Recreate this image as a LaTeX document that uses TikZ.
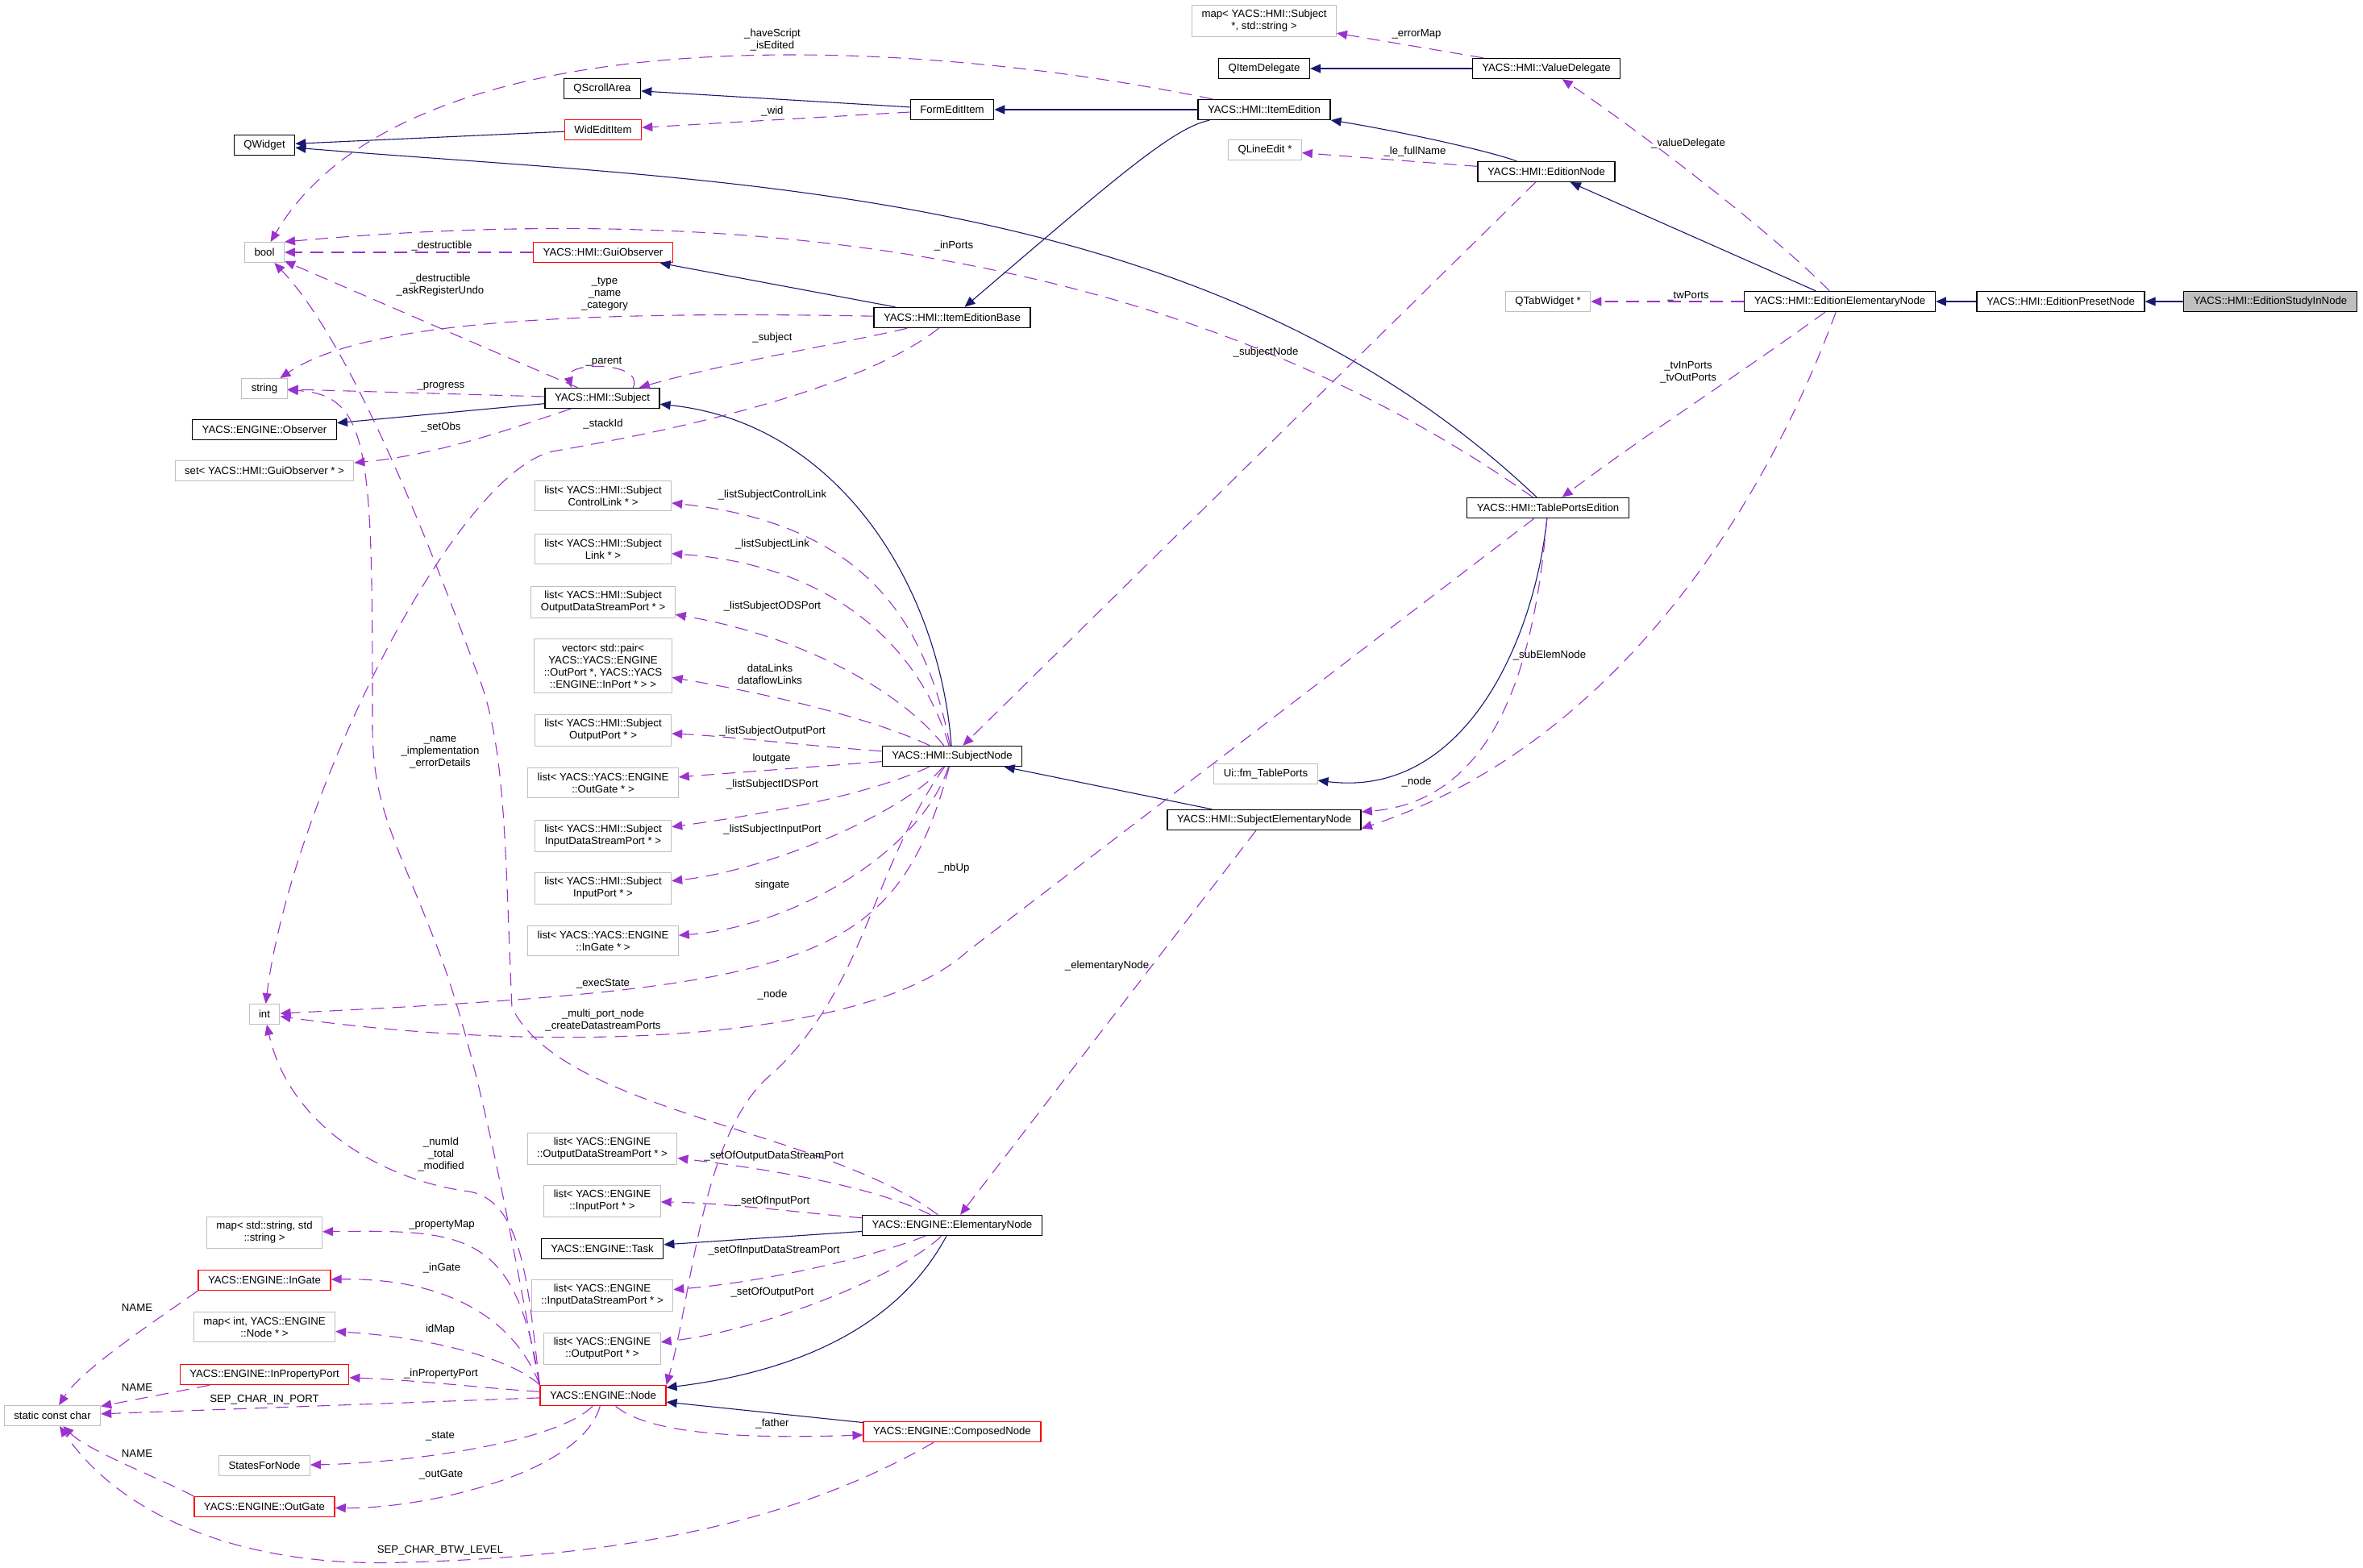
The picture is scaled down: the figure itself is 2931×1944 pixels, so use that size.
\documentclass[tikz,border=0pt]{standalone}
\usepackage{fontspec}
\setmainfont{Liberation Sans}
\usetikzlibrary{arrows.meta}
\definecolor{edgeNavy}{RGB}{25,25,112}
\definecolor{edgeOrchid}{RGB}{154,50,205}
\definecolor{boxGray}{RGB}{191,191,191}
\newcommand{\doxfont}{\fontsize{6.6}{7.5}\selectfont}

\begin{document}
\begin{tikzpicture}[x=0.5pt, y=-0.5pt,
  font=\doxfont,
  cls/.style={draw=black, line width=0.7pt, fill=white, align=center,
              inner xsep=6pt, inner ysep=3pt, minimum height=12.5pt},
  ext/.style={cls, draw=boxGray, line width=0.5pt},
  trunc/.style={cls, draw=red},
  focus/.style={cls, fill=boxGray},
  lbl/.style={align=center, inner sep=0pt},
  inherit/.style={-{Triangle[length=6.5pt,width=5.5pt]}, edgeNavy, line width=0.55pt},
  member/.style={-{Triangle[length=6.5pt,width=5.5pt]}, edgeOrchid, line width=0.55pt,
                 dash pattern=on 8pt off 5pt}
]

\useasboundingbox (0,0) rectangle (2931,1944);

% classes of the HMI side
\node[ext] (mapErr) at (1568,26) {map< YACS::HMI::Subject\\*, std::string >};
\node[cls] (qDelegate) at (1568,85) {QItemDelegate};
\node[cls] (valueDelegate) at (1918,85) {YACS::HMI::ValueDelegate};
\node[cls] (qScroll) at (747,110) {QScrollArea};
\node[cls] (formItem) at (1181,136) {FormEditItem};
\node[cls] (itemEdition) at (1568,136) {YACS::HMI::ItemEdition};
\node[trunc] (widItem) at (748,161) {WidEditItem};
\node[cls] (qWidget) at (328,180) {QWidget};
\node[ext] (qLineEdit) at (1569,186) {QLineEdit *};
\node[cls] (editionNode) at (1918,213) {YACS::HMI::EditionNode};
\node[ext] (boolType) at (328,313) {bool};
\node[trunc] (guiObserver) at (748,313) {YACS::HMI::GuiObserver};
\node[ext] (qTabWidget) at (1920,374) {QTabWidget *};
\node[cls] (editionElem) at (2282,374) {YACS::HMI::EditionElementaryNode};
\node[cls] (editionPreset) at (2556,374) {YACS::HMI::EditionPresetNode};
\node[focus] (editionStudyIn) at (2816,374) {YACS::HMI::EditionStudyInNode};
\node[cls] (itemBase) at (1181,394) {YACS::HMI::ItemEditionBase};
\node[ext] (stringType) at (328,482) {string};
\node[cls] (subject) at (747,494) {YACS::HMI::Subject};
\node[cls] (observer) at (328,533) {YACS::ENGINE::Observer};
\node[ext] (setObs) at (328,584) {set< YACS::HMI::GuiObserver * >};
\node[ext] (listCtrlLink) at (748,615) {list< YACS::HMI::Subject\\ControlLink * >};
\node[ext] (listLink) at (748,681) {list< YACS::HMI::Subject\\Link * >};
\node[ext] (listODSPort) at (748,747) {list< YACS::HMI::Subject\\OutputDataStreamPort * >};
\node[ext] (vecLinks) at (748,826) {vector< std::pair<\\YACS::YACS::ENGINE\\::OutPort *, YACS::YACS\\::ENGINE::InPort * > >};
\node[ext] (listOutPort) at (748,906) {list< YACS::HMI::Subject\\OutputPort * >};
\node[ext] (listOutGate) at (748,971) {list< YACS::YACS::ENGINE\\::OutGate * >};
\node[ext] (listIDSPort) at (748,1037) {list< YACS::HMI::Subject\\InputDataStreamPort * >};
\node[ext] (listInPort) at (748,1102) {list< YACS::HMI::Subject\\InputPort * >};
\node[ext] (listInGate) at (748,1167) {list< YACS::YACS::ENGINE\\::InGate * >};
\node[cls] (tablePorts) at (1920,630) {YACS::HMI::TablePortsEdition};
\node[cls] (subjectNode) at (1181,938) {YACS::HMI::SubjectNode};
\node[ext] (fmTablePorts) at (1570,960) {Ui::fm\_TablePorts};
\node[cls] (subjectElem) at (1568,1017) {YACS::HMI::SubjectElementaryNode};
\node[ext] (intType) at (328,1258) {int};

% classes of the engine side
\node[ext] (listEODSPort) at (747,1425) {list< YACS::ENGINE\\::OutputDataStreamPort * >};
\node[ext] (listEInPort) at (747,1490) {list< YACS::ENGINE\\::InputPort * >};
\node[ext] (mapProperty) at (328,1529) {map< std::string, std\\::string >};
\node[cls] (task) at (747,1549) {YACS::ENGINE::Task};
\node[cls] (elemNode) at (1181,1520) {YACS::ENGINE::ElementaryNode};
\node[trunc] (inGate) at (328,1588) {YACS::ENGINE::InGate};
\node[ext] (listEIDSPort) at (747,1607) {list< YACS::ENGINE\\::InputDataStreamPort * >};
\node[ext] (mapIdNode) at (328,1646) {map< int, YACS::ENGINE\\::Node * >};
\node[ext] (listEOutPort) at (747,1673) {list< YACS::ENGINE\\::OutputPort * >};
\node[trunc] (inPropPort) at (328,1705) {YACS::ENGINE::InPropertyPort};
\node[trunc] (engineNode) at (748,1731) {YACS::ENGINE::Node};
\node[ext] (staticChar) at (65,1756) {static const char};
\node[trunc] (composedNode) at (1181,1776) {YACS::ENGINE::ComposedNode};
\node[ext] (statesForNode) at (328,1818) {StatesForNode};
\node[trunc] (outGate) at (328,1869) {YACS::ENGINE::OutGate};

% inheritance
\draw[inherit] (editionStudyIn) -- (editionPreset);
\draw[inherit] (editionPreset) -- (editionElem);
\draw[inherit] (editionElem) -- (editionNode);
\draw[inherit] (editionNode) .. controls (1840,185) and (1720,160) .. (itemEdition);
\draw[inherit] (itemEdition) -- (formItem);
\draw[inherit] (itemEdition) .. controls (1455,158) and (1380,224) .. (itemBase);
\draw[inherit] (valueDelegate) -- (qDelegate);
\draw[inherit] (formItem) -- (qScroll);
\draw[inherit] (widItem) -- (qWidget);
\draw[inherit] (tablePorts) .. controls (1495,227) and (900,227) .. (qWidget);
\draw[inherit] (itemBase) -- (guiObserver);
\draw[inherit] (subjectNode) .. controls (1165,726) and (1039,524) .. (subject);
\draw[inherit] (subject) -- (observer);
\draw[inherit] (subjectElem) -- (subjectNode);
\draw[inherit] (tablePorts) .. controls (1904,790) and (1819,991) .. (fmTablePorts);
\draw[inherit] (elemNode) -- (task);
\draw[inherit] (elemNode) .. controls (1105,1662) and (958,1705) .. (engineNode);
\draw[inherit] (composedNode) -- (engineNode);

% members
\draw[member] (valueDelegate) -- (mapErr);
\draw[member] (editionElem) .. controls (2200,290) and (2030,160) .. (valueDelegate);
\draw[member] (editionNode) -- (qLineEdit);
\draw[member] (editionElem) -- (qTabWidget);
\draw[member] (editionElem) .. controls (2152,468) and (2044,537) .. (tablePorts);
\draw[member] (editionElem) .. controls (2177,660) and (1983,931) .. (subjectElem.-5);
\draw[member] (tablePorts) .. controls (1906,785) and (1872,992) .. (subjectElem);
\draw[member] (tablePorts) .. controls (1446,296) and (880,253) .. (boolType.north east);
\draw[member] (editionNode) -- (subjectNode);
\draw[member] (itemEdition) .. controls (1100,40) and (500,20) .. (boolType);
\draw[member] (formItem) -- (widItem);
\draw[member] (guiObserver) -- (boolType);
\draw[member] (subject) -- (boolType);
\draw[member] (subject) -- (stringType);
\draw[member] (subject.19) .. controls (800,448) and (700,448) .. (subject.161);
\draw[member] (subject) .. controls (640,530) and (540,565) .. (setObs);
\draw[member] (itemBase) .. controls (1050,425) and (900,450) .. (subject);
\draw[member] (itemBase) .. controls (700,385) and (450,400) .. (stringType);
\draw[member] (itemBase) .. controls (1060,490) and (800,540) .. (685,560)
  .. controls (560,590) and (360,1000) .. (intType);
\draw[member] (subjectNode) .. controls (1150,780) and (1080,650) .. (listCtrlLink);
\draw[member] (subjectNode) .. controls (1140,800) and (1030,700) .. (listLink);
\draw[member] (subjectNode) .. controls (1120,860) and (1000,790) .. (listODSPort);
\draw[member] (subjectNode) .. controls (1080,890) and (950,860) .. (vecLinks);
\draw[member] (subjectNode) .. controls (1000,925) and (900,913) .. (listOutPort);
\draw[member] (subjectNode) -- (listOutGate);
\draw[member] (subjectNode) .. controls (1080,985) and (950,1010) .. (listIDSPort);
\draw[member] (subjectNode) .. controls (1120,1010) and (950,1080) .. (listInPort);
\draw[member] (subjectNode) .. controls (1140,1060) and (980,1150) .. (listInGate);
\draw[member] (subjectNode) .. controls (1110,1200) and (1000,1225) .. (intType);
\draw[member] (tablePorts) -- (1200,1180) .. controls (1080,1290) and (700,1310) .. (intType);
\draw[member] (subjectNode) .. controls (1080,1080) and (1075,1220) .. (960,1330)
  .. controls (870,1400) and (860,1600) .. (engineNode.north east);
\draw[member] (subjectElem) -- (elemNode);
\draw[member] (elemNode) .. controls (1020,1400) and (700,1380) .. (635,1250)
  .. controls (626,1050) and (628,920) .. (590,830)
  .. controls (520,640) and (430,420) .. (boolType);
\draw[member] (engineNode.north west) .. controls (645,1600) and (600,1320) .. (540,1169)
  .. controls (490,1040) and (462,1000) .. (462,900)
  .. controls (462,560) and (460,490) .. (stringType);
\draw[member] (engineNode.north west) .. controls (655,1600) and (650,1490) .. (582,1478)
  .. controls (480,1465) and (360,1400) .. (intType);
\draw[member] (elemNode) .. controls (1080,1470) and (950,1450) .. (listEODSPort);
\draw[member] (elemNode) .. controls (1000,1505) and (900,1492) .. (listEInPort);
\draw[member] (elemNode) .. controls (1080,1560) and (950,1590) .. (listEIDSPort);
\draw[member] (elemNode) .. controls (1120,1580) and (950,1650) .. (listEOutPort);
\draw[member] (engineNode.north west) .. controls (640,1530) and (580,1525) .. (mapProperty);
\draw[member] (engineNode.north west) .. controls (640,1640) and (560,1585) .. (inGate);
\draw[member] (engineNode.north west) .. controls (640,1690) and (550,1660) .. (mapIdNode);
\draw[member] (engineNode) .. controls (600,1722) and (520,1712) .. (inPropPort);
\draw[member] (engineNode) -- (staticChar);
\draw[member] (engineNode) .. controls (690,1790) and (500,1815) .. (statesForNode);
\draw[member] (engineNode) .. controls (720,1830) and (520,1872) .. (outGate);
\draw[member] (engineNode) .. controls (800,1775) and (900,1786) .. (composedNode);
\draw[member] (inGate.south west) .. controls (190,1640) and (100,1700) .. (staticChar);
\draw[member] (inPropPort) -- (staticChar);
\draw[member] (outGate.north west) .. controls (190,1830) and (110,1800) .. (staticChar);
\draw[member] (composedNode) .. controls (1000,1880) and (800,1930) .. (500,1938)
  .. controls (300,1945) and (150,1880) .. (staticChar);

% edge labels
\node[lbl] (lbHaveScript) at (958,50) {\_haveScript\\\_isEdited};
\node[lbl] (lbErrorMap) at (1757,42) {\_errorMap};
\node[lbl] (lbWid) at (958,138) {\_wid};
\node[lbl] (lbFullName) at (1755,188) {\_le\_fullName};
\node[lbl] (lbValueDelegate) at (2094,178) {\_valueDelegate};
\node[lbl] (lbDestructible) at (548,305) {\_destructible};
\node[lbl] (lbInPorts) at (1183,305) {\_inPorts};
\node[lbl] (lbUndo) at (546,354) {\_destructible\\\_askRegisterUndo};
\node[lbl] (lbType) at (750,365) {\_type\\\_name\\\_category};
\node[lbl] (lbTwPorts) at (2094,367) {\_twPorts};
\node[lbl] (lbSubject) at (958,419) {\_subject};
\node[lbl] (lbSubjectNode) at (1570,437) {\_subjectNode};
\node[lbl] (lbParent) at (749,449) {\_parent};
\node[lbl] (lbTvPorts) at (2094,462) {\_tvInPorts\\\_tvOutPorts};
\node[lbl] (lbProgress) at (547,479) {\_progress};
\node[lbl] (lbStackId) at (748,526) {\_stackId};
\node[lbl] (lbSetObs) at (547,530) {\_setObs};
\node[lbl] (lbCtrlLink) at (958,614) {\_listSubjectControlLink};
\node[lbl] (lbLink) at (958,675) {\_listSubjectLink};
\node[lbl] (lbODSPort) at (958,752) {\_listSubjectODSPort};
\node[lbl] (lbSubElem) at (1922,813) {\_subElemNode};
\node[lbl] (lbDataLinks) at (955,836) {dataLinks\\dataflowLinks};
\node[lbl] (lbOutPort) at (958,907) {\_listSubjectOutputPort};
\node[lbl] (lbName) at (546,933) {\_name\\\_implementation\\\_errorDetails};
\node[lbl] (lbOutgate) at (957,941) {loutgate};
\node[lbl] (lbNodeUp) at (1757,970) {\_node};
\node[lbl] (lbIDSPort) at (958,973) {\_listSubjectIDSPort};
\node[lbl] (lbInPort) at (958,1029) {\_listSubjectInputPort};
\node[lbl] (lbNbUp) at (1183,1077) {\_nbUp};
\node[lbl] (lbIngate) at (958,1098) {singate};
\node[lbl] (lbElemNode) at (1373,1198) {\_elementaryNode};
\node[lbl] (lbExecState) at (748,1220) {\_execState};
\node[lbl] (lbNode) at (958,1234) {\_node};
\node[lbl] (lbMultiPort) at (748,1266) {\_multi\_port\_node\\\_createDatastreamPorts};
\node[lbl] (lbNumId) at (547,1432) {\_numId\\\_total\\\_modified};
\node[lbl] (lbSetODS) at (960,1434) {\_setOfOutputDataStreamPort};
\node[lbl] (lbSetIn) at (958,1490) {\_setOfInputPort};
\node[lbl] (lbPropMap) at (548,1519) {\_propertyMap};
\node[lbl] (lbSetIDS) at (960,1551) {\_setOfInputDataStreamPort};
\node[lbl] (lbInGate) at (548,1573) {\_inGate};
\node[lbl] (lbSetOut) at (958,1603) {\_setOfOutputPort};
\node[lbl] (lbNameA) at (170,1622) {NAME};
\node[lbl] (lbIdMap) at (546,1649) {idMap};
\node[lbl] (lbInProp) at (547,1704) {\_inPropertyPort};
\node[lbl] (lbNameB) at (170,1721) {NAME};
\node[lbl] (lbSepIn) at (328,1736) {SEP\_CHAR\_IN\_PORT};
\node[lbl] (lbFather) at (958,1766) {\_father};
\node[lbl] (lbState) at (546,1782) {\_state};
\node[lbl] (lbNameC) at (170,1803) {NAME};
\node[lbl] (lbOutGate) at (547,1829) {\_outGate};
\node[lbl] (lbSepLevel) at (546,1923) {SEP\_CHAR\_BTW\_LEVEL};

\end{tikzpicture}
\end{document}
